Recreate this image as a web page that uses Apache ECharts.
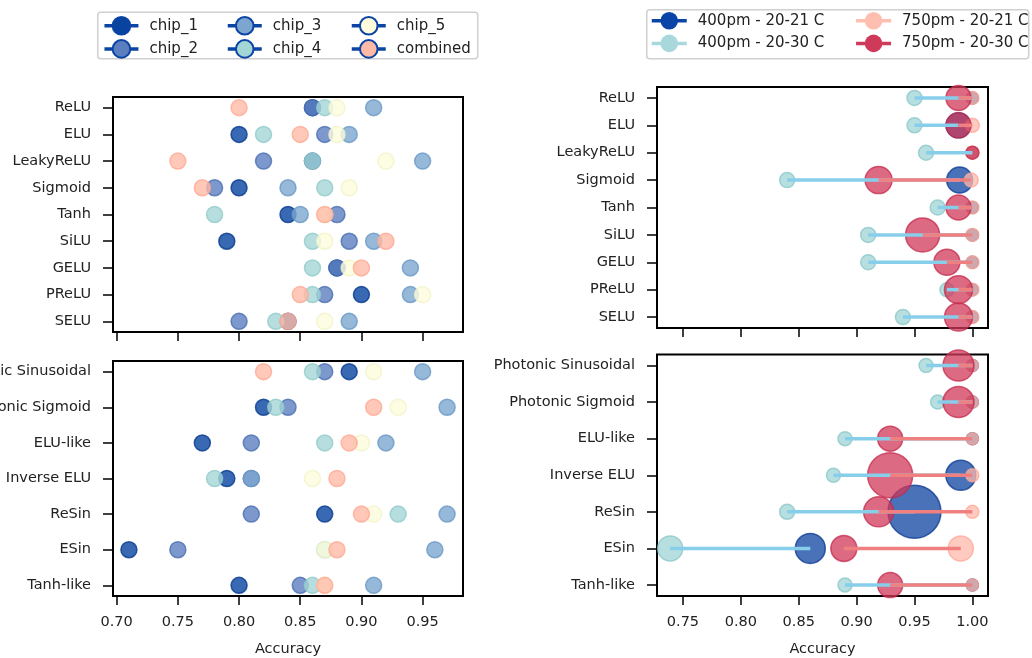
<!DOCTYPE html>
<html>
<head>
<meta charset="utf-8">
<script src="https://cdn.jsdelivr.net/npm/echarts@6/dist/echarts.min.js"></script>
<style>
  html, body { margin: 0; padding: 0; background: #fff; }
  #chart { width: 1032px; height: 658px; }
</style>
</head>
<body>
<div id="chart"></div>
<script>
// ---- data ----
const topRows = ["ReLU", "ELU", "LeakyReLU", "Sigmoid", "Tanh", "SiLU", "GELU", "PReLU", "SELU"];
const bottomRows = ["Photonic Sinusoidal", "Photonic Sigmoid", "ELU-like", "Inverse ELU", "ReSin", "ESin", "Tanh-like"];

const chipNames = ["chip_1", "chip_2", "chip_3", "chip_4", "chip_5", "combined"];
const chip1Top = [0.86, 0.80, 0.86, 0.80, 0.84, 0.79, 0.88, 0.90, 0.84];
const chip2Top = [0.86, 0.87, 0.82, 0.78, 0.88, 0.89, 0.88, 0.87, 0.80];
const chip3Top = [0.91, 0.89, 0.95, 0.84, 0.85, 0.91, 0.94, 0.94, 0.89];
const chip4Top = [0.87, 0.82, 0.86, 0.87, 0.78, 0.86, 0.86, 0.86, 0.83];
const chip5Top = [0.88, 0.88, 0.92, 0.89, 0.87, 0.87, 0.89, 0.95, 0.87];
const combinedTop = [0.80, 0.85, 0.75, 0.77, 0.87, 0.92, 0.90, 0.85, 0.84];

const chip1Bottom = [0.89, 0.82, 0.77, 0.79, 0.87, 0.71, 0.80];
const chip2Bottom = [0.87, 0.84, 0.81, 0.81, 0.81, 0.75, 0.85];
const chip3Bottom = [0.95, 0.97, 0.92, 0.81, 0.97, 0.96, 0.91];
const chip4Bottom = [0.86, 0.83, 0.87, 0.78, 0.93, 0.87, 0.86];
const chip5Bottom = [0.91, 0.93, 0.90, 0.86, 0.91, 0.87, 0.87];
const combinedBottom = [0.82, 0.91, 0.89, 0.88, 0.90, 0.88, 0.87];

const condNames = ["400pm - 20-21 C", "400pm - 20-30 C", "750pm - 20-21 C", "750pm - 20-30 C"];
// accuracy per condition, right panels
const a400r21Top = [1.0, 0.988, 1.0, 0.989, 1.0, 1.0, 1.0, 1.0, 1.0];
const a400r30Top = [0.95, 0.95, 0.96, 0.84, 0.97, 0.91, 0.91, 0.978, 0.94];
const a750r21Top = [1.0, 1.0, 1.0, 0.999, 1.0, 1.0, 1.0, 1.0, 1.0];
const a750r30Top = [0.988, 0.988, 1.0, 0.919, 0.988, 0.957, 0.978, 0.988, 0.988];
const a400r21Bottom = [1.0, 1.0, 1.0, 0.99, 0.95, 0.86, 1.0];
const a400r30Bottom = [0.96, 0.97, 0.89, 0.88, 0.84, 0.739, 0.89];
const a750r21Bottom = [1.0, 1.0, 1.0, 1.0, 1.0, 0.99, 1.0];
const a750r30Bottom = [0.988, 0.988, 0.929, 0.929, 0.919, 0.889, 0.929];
// bubble size per point (px diameter)
const s400r21Top = [12, 25, 12, 26, 12, 12, 12, 12, 12];
const s400r30Top = [15, 15, 15, 15, 15, 15, 15, 14, 15];
const s750r21Top = [13, 14, 13, 14, 13, 13, 13, 13, 13];
const s750r30Top = [25, 25, 13, 27, 25, 34, 26, 28, 28];
const s400r21Bottom = [12, 12, 12, 30, 53, 30, 12];
const s400r30Bottom = [14, 14, 14, 14, 15, 25, 14];
const s750r21Bottom = [12, 12, 12, 13, 13, 25, 12];
const s750r30Bottom = [31, 31, 25, 45, 30, 26, 25];

const xTicksLeft = [0.70, 0.75, 0.80, 0.85, 0.90, 0.95];
const xTicksRight = [0.75, 0.80, 0.85, 0.90, 0.95, 1.00];

// ---- styles ----
const FONT = "DejaVu Sans";
const EDGE = "#0b44a5";
const chipFill = ["#07439f", "#5b7ebf", "#7ca6cf", "#a5d6d6", "#fdfddd", "#ffbaa7"];
const chipEdge = ["#063a90", "#4a6fb2", "#6a98c6", "#92cbcb", "#f2f2c8", "#ffa994"];
const condFill = ["#0d43a0", "#a0d4d5", "#ffb9ab", "#d03858"];
const condEdge = ["#0a3790", "#88c6c8", "#ffa595", "#c42a4c"];
const condLegend = ["#0a44a6", "#a8d8dc", "#ffbfb0", "#d03a5a"];

const chart = echarts.init(document.getElementById("chart"));

const leftTop = [chip1Top, chip2Top, chip3Top, chip4Top, chip5Top, combinedTop];
const leftBottom = [chip1Bottom, chip2Bottom, chip3Bottom, chip4Bottom, chip5Bottom, combinedBottom];
const rightTop = [a400r21Top, a400r30Top, a750r21Top, a750r30Top];
const rightBottom = [a400r21Bottom, a400r30Bottom, a750r21Bottom, a750r30Bottom];
const sizeTop = [s400r21Top, s400r30Top, s750r21Top, s750r30Top];
const sizeBottom = [s400r21Bottom, s400r30Bottom, s750r21Bottom, s750r30Bottom];

const series = [];
function dotSeries(name, data, axis, fill, edge, size, opacity) {
  return {
    type: "line", name: name, xAxisIndex: axis, yAxisIndex: axis,
    data: data, symbol: "circle", symbolSize: size, showSymbol: true,
    lineStyle: { opacity: 0, width: 0 },
    itemStyle: { color: fill, borderColor: edge, borderWidth: 1.5, opacity: opacity },
    emphasis: { disabled: true }, silent: true, clip: false, z: 2
  };
}
chipNames.forEach((n, k) => {
  series.push(dotSeries(n, leftTop[k].map((v, i) => [v, i]), 0, chipFill[k], chipEdge[k], 16, 0.8));
  series.push(dotSeries(n, leftBottom[k].map((v, i) => [v, i]), 1, chipFill[k], chipEdge[k], 16, 0.8));
});
condNames.forEach((n, k) => {
  const sz = (v) => v[2];
  series.push(dotSeries(n, rightTop[k].map((v, i) => [v, i, sizeTop[k][i]]), 2, condFill[k], condEdge[k], sz, 0.75));
  series.push(dotSeries(n, rightBottom[k].map((v, i) => [v, i, sizeBottom[k][i]]), 3, condFill[k], condEdge[k], sz, 0.75));
});

function segSeries(axis, from, to, color) {
  return {
    type: "custom", xAxisIndex: axis, yAxisIndex: axis, silent: true, z: 5,
    data: from.map((v, i) => [v, to[i], i]),
    encode: { x: [0, 1], y: 2 },
    renderItem: function (params, api) {
      const p1 = api.coord([api.value(0), api.value(2)]);
      const p2 = api.coord([api.value(1), api.value(2)]);
      return { type: "line", shape: { x1: p1[0], y1: p1[1], x2: p2[0], y2: p2[1] },
               style: { stroke: color, lineWidth: 3.5 } };
    }
  };
}
series.push(segSeries(2, a400r30Top, a400r21Top, "#87ceeb"));
series.push(segSeries(2, a750r30Top, a750r21Top, "#f08080"));
series.push(segSeries(3, a400r30Bottom, a400r21Bottom, "#87ceeb"));
series.push(segSeries(3, a750r30Bottom, a750r21Bottom, "#f08080"));

function xAxis(idx, min, max, ticks, labels) {
  return {
    type: "value", gridIndex: idx, min: min, max: max, position: "bottom",
    axisLine: { show: false, onZero: false },
    axisTick: { show: true, length: 9, customValues: ticks, lineStyle: { color: "#000", width: 1.5 } },
    axisLabel: { show: labels, customValues: ticks, margin: 19, fontSize: 14.5, fontFamily: FONT, color: "#222",
                 formatter: (v) => v.toFixed(2) },
    splitLine: { show: false },
    name: labels ? "Accuracy" : "", nameLocation: "middle", nameGap: 46,
    nameTextStyle: { fontSize: 14.5, fontFamily: FONT, color: "#222" }
  };
}
function yAxis(idx, rows) {
  const n = rows.length - 1;
  const pad = n * 0.05;
  const ticks = rows.map((r, i) => i);
  return {
    type: "value", gridIndex: idx, min: -pad, max: n + pad, inverse: true, position: "left",
    axisLine: { show: false, onZero: false },
    axisTick: { show: true, length: 10, customValues: ticks, lineStyle: { color: "#000", width: 1.5 } },
    axisLabel: { customValues: ticks, margin: 22, fontSize: 14.5, fontFamily: FONT, color: "#222",
                 formatter: (v) => rows[Math.round(v)] },
    splitLine: { show: false }
  };
}

const gridBase = { show: true, borderColor: "#000", borderWidth: 2, backgroundColor: "transparent",
                   containLabel: false, outerBoundsMode: "none" };

function legendCol(names, left, top, gap, itemW, items) {
  return {
    orient: "vertical", left: left, top: top, itemWidth: itemW, itemHeight: 22, itemGap: gap,
    padding: 0, selectedMode: false,
    textStyle: { fontSize: 15, fontFamily: FONT, color: "#222", padding: [0, 0, 0, 6] },
    data: names.map((n, i) => items(n))
  };
}
const chipItem = (n) => {
  const k = chipNames.indexOf(n);
  return { name: n, itemStyle: { color: chipFill[k], borderColor: EDGE, borderWidth: 2, opacity: 1 },
           lineStyle: { color: EDGE, width: 3.5, opacity: 1 } };
};
const condItem = (n) => {
  const k = condNames.indexOf(n);
  return { name: n, itemStyle: { color: condLegend[k], borderWidth: 0, opacity: 1 },
           lineStyle: { color: condLegend[k], width: 3.5, opacity: 1 } };
};

chart.setOption({
  animation: false,
  backgroundColor: "#fff",
  graphic: [
    { type: "rect", left: 97, top: 11.5, shape: { width: 380, height: 46.5, r: 3 },
      style: { fill: "#fff", stroke: "#d0d0d0", lineWidth: 1.5 }, z: -1 },
    { type: "rect", left: 646, top: 9, shape: { width: 382, height: 49, r: 3 },
      style: { fill: "#fff", stroke: "#d0d0d0", lineWidth: 1.5 }, z: -1 }
  ],
  legend: [
    legendCol(["chip_1", "chip_2"], 102.7, 16, 3.5, 34, chipItem),
    legendCol(["chip_3", "chip_4"], 226, 16, 3.5, 34, chipItem),
    legendCol(["chip_5", "combined"], 350, 16, 3.5, 34, chipItem),
    legendCol(["400pm - 20-21 C", "400pm - 20-30 C"], 650, 12, 5, 35, condItem),
    legendCol(["750pm - 20-21 C", "750pm - 20-30 C"], 854.3, 12, 5, 35, condItem)
  ],
  grid: [
    Object.assign({ left: 113, top: 97, width: 350, height: 235 }, gridBase),
    Object.assign({ left: 113, top: 361, width: 350, height: 235 }, gridBase),
    Object.assign({ left: 657, top: 87, width: 331, height: 241 }, gridBase),
    Object.assign({ left: 657, top: 354.5, width: 331, height: 241.5 }, gridBase)
  ],
  xAxis: [
    xAxis(0, 0.697, 0.983, xTicksLeft, false),
    xAxis(1, 0.697, 0.983, xTicksLeft, true),
    xAxis(2, 0.7276, 1.0135, xTicksRight, false),
    xAxis(3, 0.7276, 1.0135, xTicksRight, true)
  ],
  yAxis: [yAxis(0, topRows), yAxis(1, bottomRows), yAxis(2, topRows), yAxis(3, bottomRows)],
  series: series
});
</script>
</body>
</html>
